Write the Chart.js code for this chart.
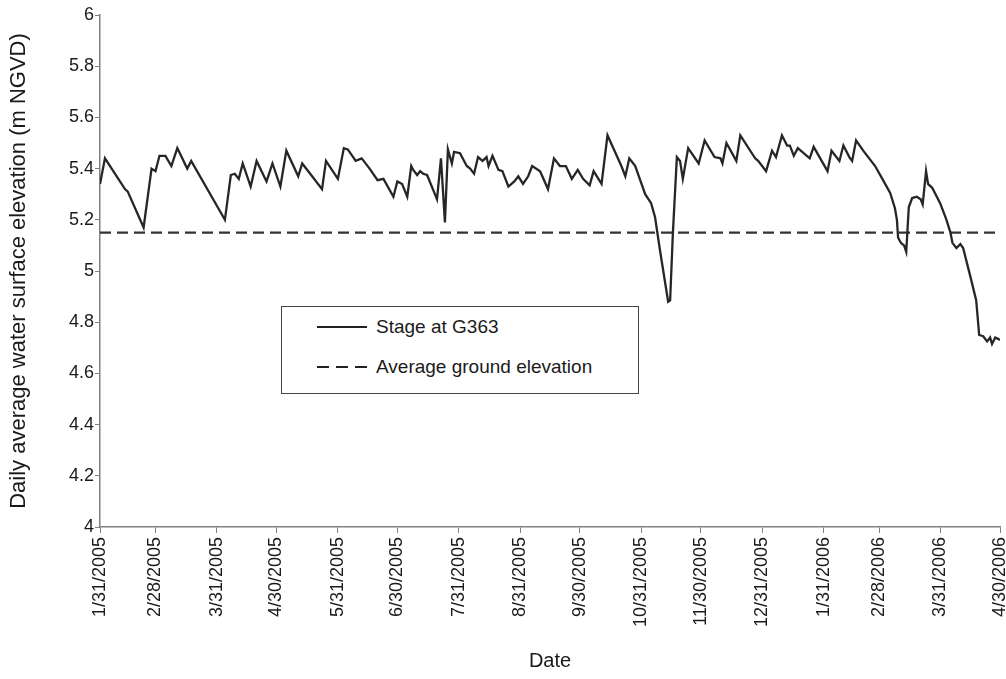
<!DOCTYPE html>
<html>
<head>
<meta charset="utf-8">
<script src="https://cdn.jsdelivr.net/npm/chart.js@4"></script>
<style>
  body { margin: 0; background: #fff; }
  #wrap { position: relative; width: 1006px; height: 679px; }
  #legend {
    position: absolute; left: 281px; top: 306px; width: 356px; height: 86px;
    border: 1px solid #444; background: #fff;
    font-family: Arial, "Liberation Sans", sans-serif; font-size: 19px; color: #1a1a1a;
  }
  .row { position: absolute; left: 35px; height: 22px; display: flex; align-items: center; }
  .row .sample { width: 50px; height: 1.5px; margin-right: 9px; }
  .solid { background: #222; }
  .dashed { background: repeating-linear-gradient(to right, #222 0 12px, transparent 12px 19px); }
</style>
</head>
<body>
<div id="wrap">
  <canvas id="chart" width="1006" height="679"></canvas>
  <div id="legend">
    <div class="row" style="top:9px"><span class="sample solid"></span>Stage at G363</div>
    <div class="row" style="top:49px"><span class="sample dashed"></span>Average ground elevation</div>
  </div>
</div>
<script>
// days counted from 1/31/2005
const stageDays = [
  0, 2.5, 12.6, 14, 22, 26, 28, 30, 33, 36, 39, 44, 46, 63, 66, 68, 70, 72, 76, 79,
  84, 87, 91, 94, 100, 102, 107, 112, 114, 120, 123, 125, 129, 132, 136, 140, 143, 148, 150, 152.4,
  155, 157, 158, 160, 161.5, 163, 165, 170, 172, 174, 175.5, 177.5, 178.6, 181.6, 185, 186.7, 188.7, 190.7, 193, 195,
  196, 198, 201, 203, 206, 209, 211, 213.4, 216, 218, 222, 226, 229, 232, 235, 238, 241, 243.7, 247, 249,
  253, 256, 263, 265, 267, 270, 275, 278, 280, 282.5, 286.6, 287.6, 289, 291, 292.6, 294, 296.7, 302, 305, 310,
  313, 314, 316, 321, 323, 330.5, 332, 336, 339, 341, 344, 346.6, 348, 350, 352, 358, 360, 367, 369, 373,
  375, 378, 379.4, 381.4, 385, 391, 395, 398.6, 401, 402, 402.6, 404, 405.6, 406.7, 408, 409.7, 412, 414, 415, 416.7,
  417.7, 419.8, 423.8, 427, 429, 430, 432, 434, 435.4, 439, 442, 443.5, 445.5, 447.5, 449, 450, 451.6, 453, 454
];
const stageValues = [
  5.34, 5.44, 5.32, 5.31, 5.17, 5.40, 5.39, 5.45, 5.45, 5.41, 5.48, 5.40, 5.43, 5.20, 5.375, 5.38, 5.36, 5.42, 5.33, 5.43,
  5.35, 5.42, 5.33, 5.47, 5.37, 5.42, 5.37, 5.32, 5.43, 5.36, 5.48, 5.475, 5.43, 5.44, 5.40, 5.355, 5.36, 5.29, 5.35, 5.34,
  5.29, 5.41, 5.395, 5.375, 5.39, 5.38, 5.375, 5.28, 5.44, 5.19, 5.475, 5.42, 5.465, 5.46, 5.41, 5.40, 5.38, 5.445, 5.43, 5.445,
  5.41, 5.45, 5.395, 5.39, 5.33, 5.35, 5.37, 5.34, 5.37, 5.41, 5.39, 5.32, 5.44, 5.41, 5.41, 5.36, 5.395, 5.36, 5.335, 5.39,
  5.34, 5.53, 5.41, 5.37, 5.44, 5.41, 5.30, 5.265, 5.21, 5.08, 4.88, 4.885, 5.15, 5.445, 5.43, 5.36, 5.48, 5.42, 5.51, 5.445,
  5.44, 5.42, 5.50, 5.43, 5.53, 5.44, 5.43, 5.39, 5.47, 5.445, 5.53, 5.49, 5.49, 5.45, 5.48, 5.44, 5.485, 5.39, 5.47, 5.43,
  5.49, 5.445, 5.43, 5.51, 5.47, 5.41, 5.355, 5.305, 5.245, 5.20, 5.13, 5.11, 5.10, 5.075, 5.25, 5.285, 5.29, 5.28, 5.26, 5.39,
  5.34, 5.325, 5.265, 5.20, 5.15, 5.11, 5.09, 5.105, 5.09, 4.98, 4.885, 4.75, 4.745, 4.725, 4.74, 4.715, 4.74, 4.735, 4.73
];
const groundElevation = 5.15;

const tickDays = [0, 28, 59, 89, 120, 150, 181, 212, 242, 273, 303, 334, 365, 393, 424, 454];
const tickLabels = [
  '1/31/2005', '2/28/2005', '3/31/2005', '4/30/2005', '5/31/2005', '6/30/2005', '7/31/2005', '8/31/2005',
  '9/30/2005', '10/31/2005', '11/30/2005', '12/31/2005', '1/31/2006', '2/28/2006', '3/31/2006', '4/30/2006'
];

const font = 'Arial, "Liberation Sans", sans-serif';
const textColor = '#1a1a1a';
const axisColor = '#808080';

const stagePoints = stageDays.map((d, i) => ({ x: d, y: stageValues[i] }));
const lastDay = tickDays[tickDays.length - 1];

new Chart(document.getElementById('chart'), {
  type: 'line',
  data: {
    datasets: [
      {
        label: 'Stage at G363',
        data: stagePoints,
        borderColor: '#262626',
        borderWidth: 2.3,
        pointRadius: 0,
        tension: 0
      },
      {
        label: 'Average ground elevation',
        data: [{ x: 0, y: groundElevation }, { x: lastDay, y: groundElevation }],
        borderColor: '#333',
        borderWidth: 2.3,
        borderDash: [11, 6],
        pointRadius: 0
      }
    ]
  },
  options: {
    responsive: false,
    animation: false,
    devicePixelRatio: 1,
    layout: { padding: { top: 15, right: 6, left: 0, bottom: 0 } },
    plugins: { legend: { display: false }, tooltip: { enabled: false } },
    scales: {
      x: {
        type: 'linear',
        min: 0,
        max: lastDay,
        afterBuildTicks: (scale) => { scale.ticks = tickDays.map(v => ({ value: v })); },
        afterFit: (scale) => { scale.height = 152; scale.paddingLeft = 0; scale.paddingRight = 0; },
        ticks: {
          autoSkip: false,
          minRotation: 90,
          maxRotation: 90,
          padding: 4,
          color: textColor,
          font: { family: font, size: 18 },
          callback: (v) => tickLabels[tickDays.indexOf(v)]
        },
        grid: { drawOnChartArea: false, drawTicks: true, tickLength: 6, color: axisColor },
        border: { color: axisColor, width: 1.5 },
        title: {
          display: true, text: 'Date', color: textColor,
          font: { family: font, size: 20 }, padding: { top: 0, bottom: 6 }
        }
      },
      y: {
        min: 4,
        max: 6,
        afterFit: (scale) => { scale.width = 100; scale.paddingTop = 0; scale.paddingBottom = 0; },
        ticks: {
          stepSize: 0.2,
          padding: 1,
          color: textColor,
          font: { family: font, size: 18 },
          callback: (v) => String(+v.toFixed(1))
        },
        grid: { drawOnChartArea: false, drawTicks: true, tickLength: 5, color: axisColor },
        border: { color: axisColor, width: 1.5 },
        title: {
          display: true, text: 'Daily average water surface elevation (m NGVD)', color: textColor,
          font: { family: font, size: 22 }, padding: { top: 6, bottom: 0 }
        }
      }
    }
  }
});
</script>
</body>
</html>
